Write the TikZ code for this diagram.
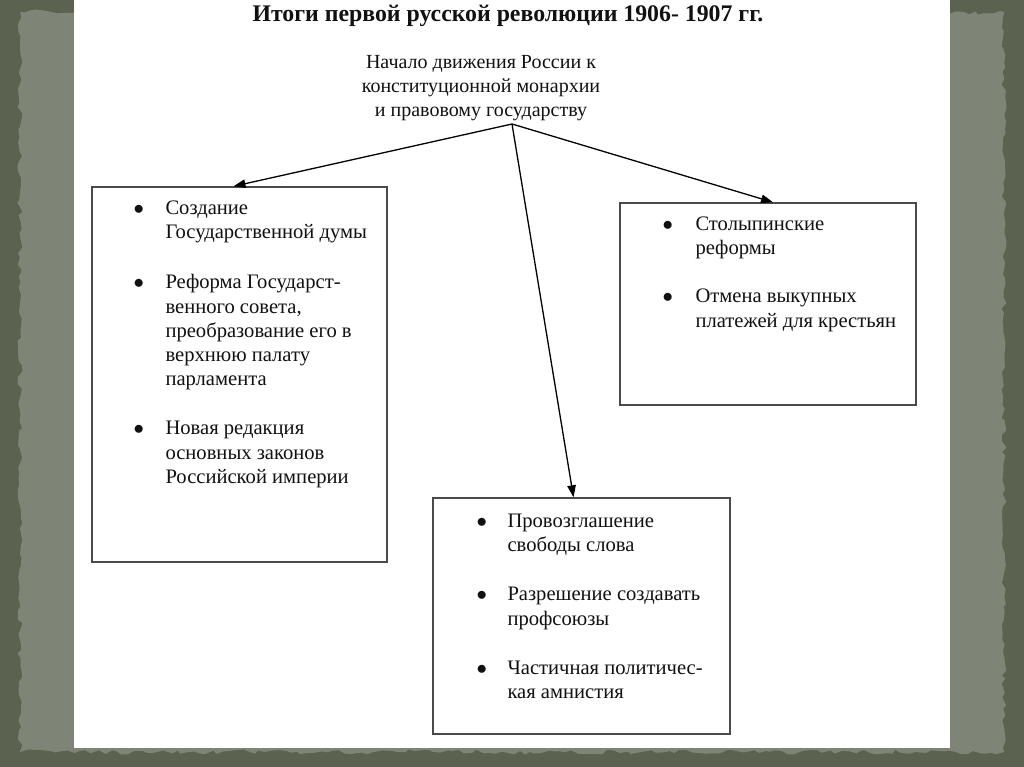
\documentclass[tikz,border=0pt]{standalone}
\usepackage{fontspec}
\setmainfont{Liberation Serif}
\usetikzlibrary{arrows.meta,positioning,calc,decorations.pathmorphing}
\definecolor{Moss}{HTML}{5B6350}
\definecolor{Slate}{HTML}{7F8576}
\definecolor{Frame}{HTML}{4A4A4A}
\definecolor{Ink}{HTML}{111111}
\begin{document}
\begin{tikzpicture}[x=1pt,y=-1pt,text=Ink,body/.style={font=\fontsize{20.6}{24.2}\selectfont},box/.style={draw=Frame,line width=1.4pt,fill=white,inner sep=0pt},list/.style={body,anchor=north west,inner sep=0pt,align=left},arrow/.style={-{Triangle[length=12pt,width=8.5pt]},line width=1.3pt,draw=black}]
\useasboundingbox (0,0) rectangle (1024,767);
\fill[Moss] (0,0) rectangle (1024,767);
\fill[Slate,decorate,decoration={random steps,segment length=6pt,amplitude=2.5pt}] (20,12) rectangle (1004,752);
\fill[white] (74,0) rectangle (950,748);
\node[font=\bfseries\fontsize{23.8}{28}\selectfont] (title) at (508,16){Итоги первой русской революции 1906- 1907 гг.};
\node[font=\fontsize{20}{24}\selectfont,align=center] (goal) at (481,88){Начало движения России к\\конституционной монархии\\и правовому государству};
\coordinate (fork) at (512,124);
\node[box,minimum width=295pt,minimum height=375pt] (duma) at (239.5,374.5){};
\node[box,minimum width=296pt,minimum height=202pt] (agrar) at (768,304){};
\node[box,minimum width=297pt,minimum height=236pt] (rights) at (581.5,616){};
\node[list] (dumatext) at ([xshift=42pt,yshift=-11pt]duma.north west){\begin{tabular}{@{}p{32pt}@{}l@{}}$\bullet$ & Создание\\ & Государственной думы\\[26pt] $\bullet$ & Реформа Государст-\\ & венного совета,\\ & преобразование его в\\ & верхнюю палату\\ & парламента\\[25pt] $\bullet$ & Новая редакция\\ & основных законов\\ & Российской империи\end{tabular}};
\node[list] (agrartext) at ([xshift=43pt,yshift=-11pt]agrar.north west){\begin{tabular}{@{}p{33pt}@{}l@{}}$\bullet$ & Столыпинские\\ & реформы\\[24pt] $\bullet$ & Отмена выкупных\\ & платежей для крестьян\end{tabular}};
\node[list] (rightstext) at ([xshift=44pt,yshift=-13pt]rights.north west){\begin{tabular}{@{}p{31pt}@{}l@{}}$\bullet$ & Провозглашение\\ & свободы слова\\[25pt] $\bullet$ & Разрешение создавать\\ & профсоюзы\\[25pt] $\bullet$ & Частичная политичес-\\ & кая амнистия\end{tabular}};
\draw[arrow] (fork) -- ([xshift=-6pt]duma.north);
\draw[arrow] (fork) -- ([xshift=5pt]agrar.north);
\draw[arrow] (fork) -- ([xshift=-8pt]rights.north);
\end{tikzpicture}
\end{document}
